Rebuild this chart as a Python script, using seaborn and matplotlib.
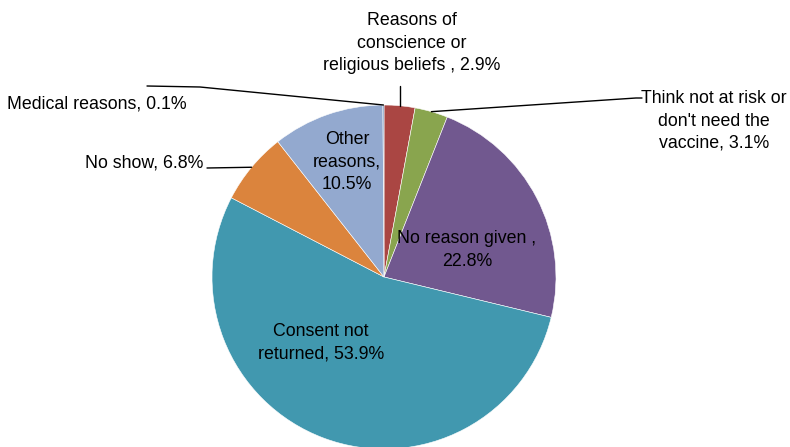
import numpy as np
import matplotlib
matplotlib.use("Agg")
import matplotlib.pyplot as plt
import seaborn as sns
from matplotlib import font_manager as fm

categories = ["Reasons of conscience or religious beliefs",
              "Think not at risk or don't need the vaccine",
              "No reason given", "Consent not returned", "No show",
              "Other reasons", "Medical reasons"]
values = [2.9, 3.1, 22.8, 53.9, 6.8, 10.5, 0.1]
label_texts = ["Reasons of\nconscience or\nreligious beliefs , 2.9%",
               "Think not at risk or\ndon't need the\nvaccine, 3.1%",
               "No reason given ,\n22.8%",
               "Consent not\nreturned, 53.9%",
               "No show, 6.8%",
               "Other\nreasons,\n10.5%",
               "Medical reasons, 0.1%"]
colors = ["#AA4643", "#89A54E", "#71588F", "#4198AF", "#DB843D", "#93A9CF", "#4572A7"]

sns.set_theme(style="white")
names = {f.name for f in fm.fontManager.ttflist}
fam = "Liberation Sans Narrow" if "Liberation Sans Narrow" in names else "Liberation Sans"
fs = 14 if fam == "Liberation Sans Narrow" else 12.8
plt.rcParams["font.family"] = [fam, "DejaVu Sans"]

W, H = 790, 447
fig = plt.figure(figsize=(7.9, 4.47), dpi=100)
ax = fig.add_axes([0, 0, 1, 1])

def fy(y):
    return H - y

cx, cy, R = 384, fy(277), 172
wedges, _ = ax.pie(values, colors=sns.color_palette(colors), startangle=90,
                   counterclock=False, center=(cx, cy), radius=R,
                   wedgeprops=dict(edgecolor="white", linewidth=0.4))
ax.set_xlim(0, W)
ax.set_ylim(0, H)
ax.set_position([0, 0, 1, 1])
ax.axis("off")

def mid_point(w, r=1.0):
    ang = np.deg2rad((w.theta1 + w.theta2) / 2)
    return cx + R * r * np.cos(ang), cy + R * r * np.sin(ang)

txt = dict(fontsize=fs, color="black", linespacing=1.4)
lw = 1.0
# 0: conscience
ax.text(412, fy(43), label_texts[0], ha="center", va="center", **txt)
x0, y0 = mid_point(wedges[0])
ax.plot([x0, x0], [y0, fy(86)], color="black", lw=lw)
# 1: not at risk
ax.text(714, fy(121), label_texts[1], ha="center", va="center", **txt)
x1, y1 = mid_point(wedges[1])
ax.plot([x1, 636, 642], [y1, fy(98), fy(98)], color="black", lw=lw)
# 2: no reason given
ax.text(467, fy(250), label_texts[2], ha="center", va="center", **txt)
# 3: consent not returned
ax.text(321, fy(343), label_texts[3], ha="center", va="center", **txt)
# 4: no show
ax.text(203, fy(163), label_texts[4], ha="right", va="center", **txt)
x4, y4 = mid_point(wedges[4])
ax.plot([x4, 207], [y4, fy(168)], color="black", lw=lw)
# 5: other reasons
ax.text(347, fy(162), label_texts[5], ha="center", va="center", **txt)
# 6: medical
ax.text(187, fy(104), label_texts[6], ha="right", va="center", **txt)
x6, y6 = mid_point(wedges[6])
ax.plot([x6, 200, 147], [y6, fy(87), fy(86)], color="black", lw=lw)

fig.savefig("out.png", dpi=100)
